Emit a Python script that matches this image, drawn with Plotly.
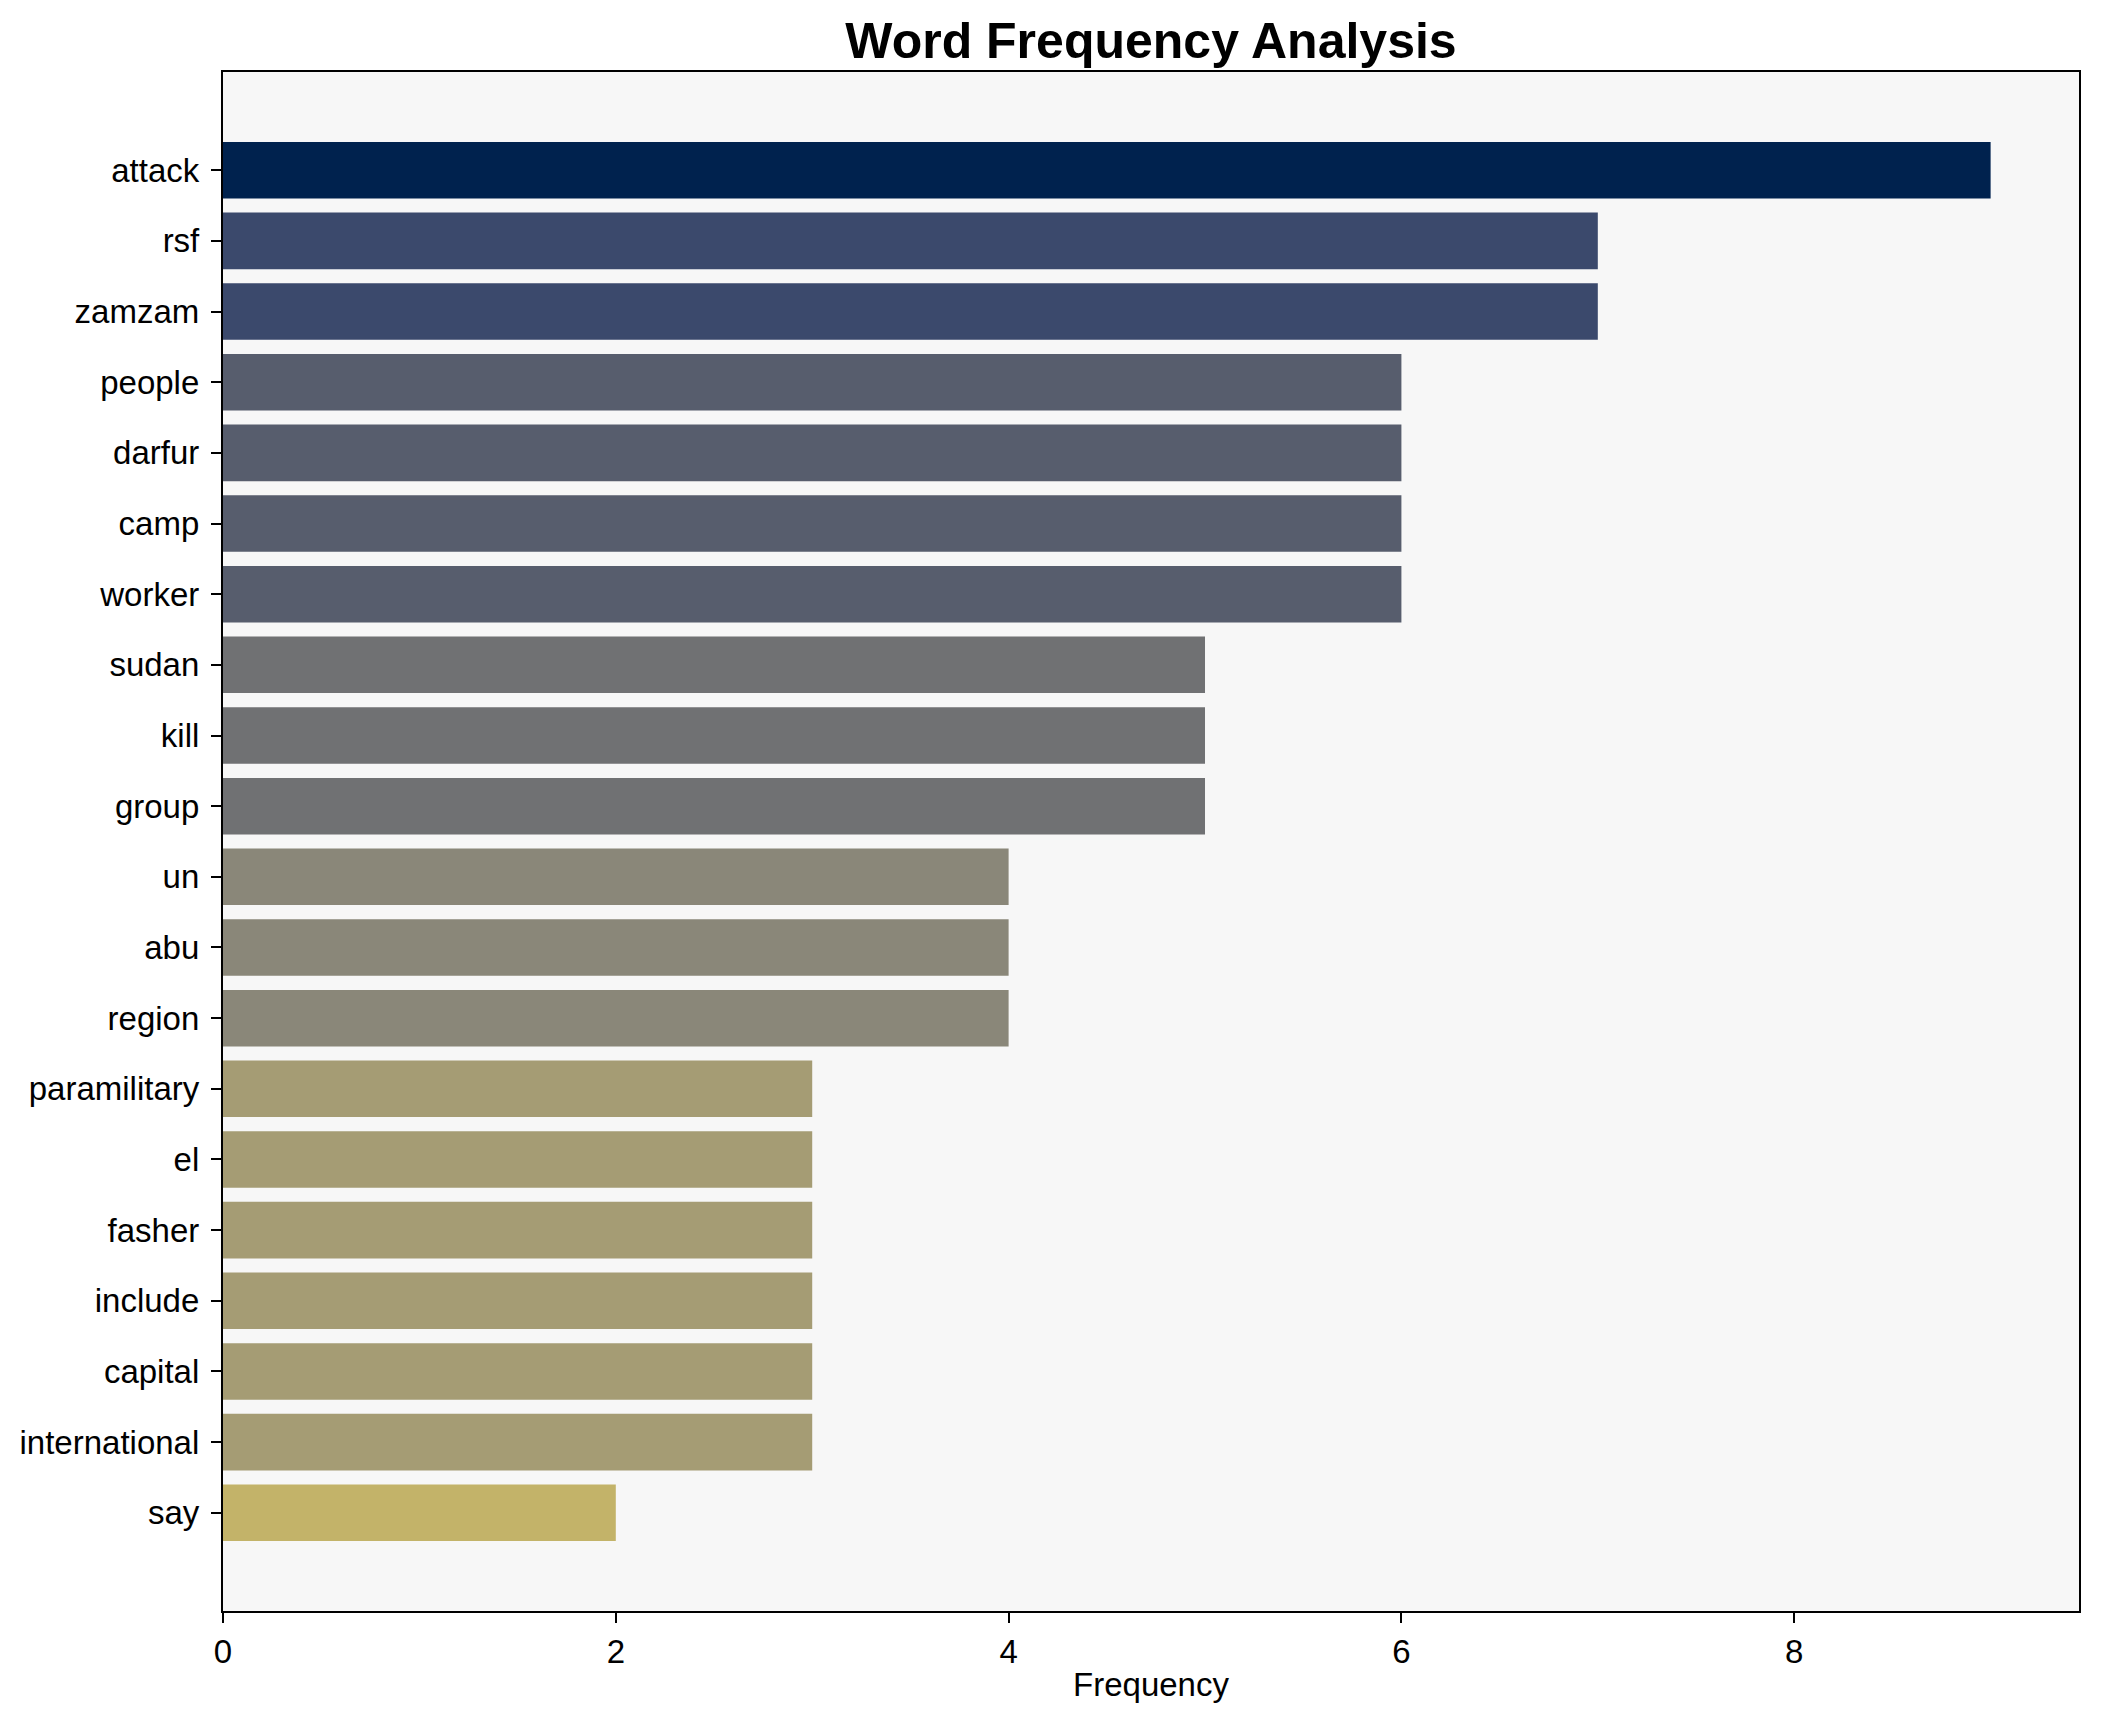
import plotly.graph_objects as go

words = ["attack", "rsf", "zamzam", "people", "darfur", "camp", "worker",
         "sudan", "kill", "group", "un", "abu", "region", "paramilitary",
         "el", "fasher", "include", "capital", "international", "say"]
freqs = [9, 7, 7, 6, 6, 6, 6, 5, 5, 5, 4, 4, 4, 3, 3, 3, 3, 3, 3, 2]
color_by_freq = {9: "#00224e", 7: "#3b496c", 6: "#575d6d", 5: "#707173",
                 4: "#8a8779", 3: "#a59c74", 2: "#c3b369"}
colors = [color_by_freq[f] for f in freqs]

fig = go.Figure(go.Bar(
    x=freqs, y=words, orientation="h",
    marker=dict(color=colors, line=dict(width=0)),
    width=0.8,
))

font_family = "Liberation Sans, Arial, sans-serif"
n = len(words)
W, H = 2085, 1706
fig.update_layout(
    width=W, height=H,
    margin=dict(l=213, r=13, t=64, b=103),
    paper_bgcolor="white",
    plot_bgcolor="#f7f7f7",
    font=dict(family=font_family, size=33, color="black"),
    showlegend=False,
    title=dict(text="<b>Word Frequency Analysis</b>", x=0.5, xref="paper",
               y=1 - 32 / H, yref="container", yanchor="middle", xanchor="center",
               font=dict(size=50, family=font_family, color="black")),
)
fig.update_xaxes(
    range=[0, 9.45], tickvals=[0, 2, 4, 6, 8], showgrid=False, zeroline=False,
    showline=True, linecolor="black", linewidth=2.2, mirror=True,
    ticks="outside", ticklen=10, tickwidth=2.2, tickcolor="black",
    tickfont=dict(size=33),
    title=dict(text="Frequency", font=dict(size=33), standoff=4),
)
fig.update_yaxes(
    type="category", categoryorder="array", categoryarray=words,
    range=[n - 1 + 1.39, -1.39], showgrid=False, zeroline=False,
    showline=True, linecolor="black", linewidth=2.2, mirror=True,
    ticks="outside", ticklen=10, tickwidth=2.2, tickcolor="black",
    tickfont=dict(size=33), ticklabelstandoff=5,
)

fig.write_html("out.html")
